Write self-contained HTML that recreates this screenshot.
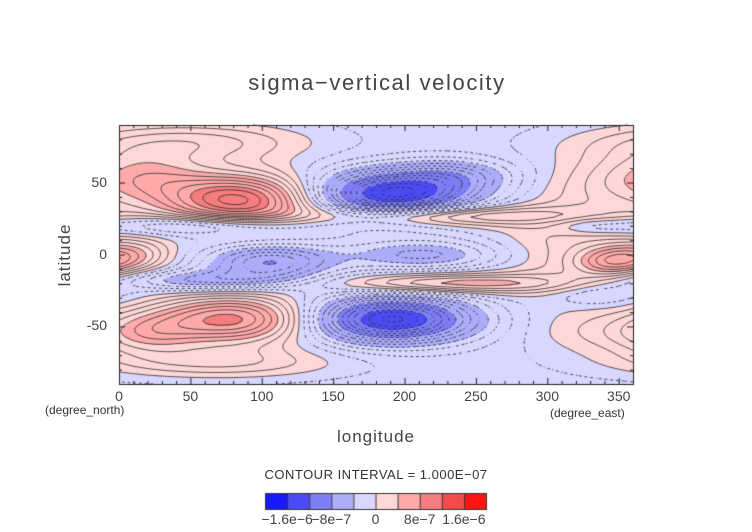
<!DOCTYPE html>
<html><head><meta charset="utf-8"><style>
body{margin:0;background:#fff;width:752px;height:532px;overflow:hidden;font-family:"Liberation Sans",sans-serif;color:#333}
.t{position:absolute;white-space:nowrap}
</style></head><body>
<div style="position:relative;width:752px;height:532px">
<div class="t" style="left:232px;top:70px;width:290px;text-align:center;font-size:22px;letter-spacing:1.6px;font-weight:300;color:#444">sigma−vertical velocity</div>
<canvas id="c" width="752" height="532" style="position:absolute;left:0;top:0"></canvas>
<div class="t" style="left:20px;top:245px;font-size:17px;transform:rotate(-90deg);transform-origin:45px 10px;width:90px;text-align:center;letter-spacing:1px;color:#444">latitude</div>
<div class="t" style="left:316px;top:427px;width:120px;text-align:center;font-size:17px;letter-spacing:1px;color:#444">longitude</div>
<div class="t" style="left:45px;top:403px;font-size:12px">(degree_north)</div>
<div class="t" style="left:550px;top:406px;font-size:12px">(degree_east)</div>
<div class="t" style="left:256px;top:467px;width:240px;text-align:center;font-size:13px;letter-spacing:0.5px">CONTOUR INTERVAL = 1.000E−07</div>
<div id="lab"></div>
</div>
<script>
// blob data: centre lon, centre lat, spread lon, spread lat, amplitude (1e-7)
const blobLon=[85,20,50,80,20,10,60,60,105,190,235,190,225,230,215,345,320,330,340,70,335,330];
const blobLat=[38,55,78,-45,-55,0,20,-18,-5,42,55,-45,27,-20,0,-5,5,-55,50,-75,-28,20];
const blobSLon=[40,30,60,40,25,20,50,50,30,40,30,40,60,60,40,18,45,30,30,60,25,20];
const blobSLat=[13,12,10,12,10,8,5,5,8,11,8,11,5,5,7,7,35,10,15,8,6,4];
const blobAmp=[12,4,4,10,4,4,-4.5,-4.5,-6.5,-13,-4,-13,6,6,-4,5,3,1.5,1.5,3.5,-2.5,-2];
const baseline=-1.5;
const xTicks=[0,50,100,150,200,250,300,350];
const yTicks=[50,0,-50];
const cbEdges=[-1.6,-1.2,-0.8,-0.4,0,0.4,0.8,1.2,1.6];
const cbLabels=["−1.6e−6","−8e−7","0","8e−7","1.6e−6"];
const cbLabelVals=[-1.6,-0.8,0,0.8,1.6];
const colors=[[25,25,255],[75,75,245],[125,125,245],[172,172,250],[215,215,255],[255,215,215],[255,170,170],[245,125,125],[245,75,75],[255,20,20]];

const X0=119,X1=633,Y0=125,Y1=384;
const xs=l=>X0+(l/360)*(X1-X0);
const ys=a=>Y0+(90-a)/180*(Y1-Y0);
function field(lon,lat){let v=baseline;for(let i=0;i<blobLon.length;i++){let d=Math.abs(lon-blobLon[i]);if(d>180)d=360-d;const a=d/blobSLon[i],b=(lat-blobLat[i])/blobSLat[i];v+=blobAmp[i]*Math.exp(-0.5*(a*a+b*b));}return v;}
function bin(v){let k=0;for(const e of cbEdges){if(v*1e-7>=e*1e-6)k++;}return k;}
const cv=document.getElementById('c'),ctx=cv.getContext('2d');
const W=X1-X0,H=Y1-Y0,img=ctx.createImageData(W,H);
for(let j=0;j<H;j++)for(let i=0;i<W;i++){const lon=i/W*360,lat=90-j/H*180;const c=colors[bin(field(lon,lat))];const p=(j*W+i)*4;img.data[p]=c[0];img.data[p+1]=c[1];img.data[p+2]=c[2];img.data[p+3]=255;}
ctx.putImageData(img,X0,Y0);
// contours via marching squares
const step=2,nx=181,ny=91,g=[];
for(let j=0;j<ny;j++){g.push([]);for(let i=0;i<nx;i++)g[j].push(field(i*step,90-j*step));}
ctx.lineWidth=0.8;ctx.strokeStyle='#2a2a2a';
for(let lev=-20;lev<=15;lev++){
 const L=lev;ctx.beginPath();
 for(let j=0;j<ny-1;j++)for(let i=0;i<nx-1;i++){
  if(L<0&&((i+j)%2===1))continue;
  const v=[g[j][i],g[j][i+1],g[j+1][i+1],g[j+1][i]];
  const pts=[];
  const P=[[i,j],[i+1,j],[i+1,j+1],[i,j+1]];
  for(let e=0;e<4;e++){const a=v[e],b=v[(e+1)%4];if((a<L)!==(b<L)){const t=(L-a)/(b-a);const pa=P[e],pb=P[(e+1)%4];pts.push([pa[0]+(pb[0]-pa[0])*t,pa[1]+(pb[1]-pa[1])*t]);}}
  for(let k=0;k+1<pts.length;k+=2){ctx.moveTo(xs(pts[k][0]*step),ys(90-pts[k][1]*step));ctx.lineTo(xs(pts[k+1][0]*step),ys(90-pts[k+1][1]*step));}
 }
 ctx.stroke();
}
// frame and ticks
ctx.strokeStyle='#222';ctx.lineWidth=1;ctx.strokeRect(X0+0.5,Y0+0.5,W,H);
ctx.beginPath();
for(let l=0;l<=360;l+=10){const x=xs(l)+0.5,len=l%50===0?6:3;ctx.moveTo(x,Y1);ctx.lineTo(x,Y1-len);ctx.moveTo(x,Y0);ctx.lineTo(x,Y0+len);}
for(let a=-90;a<=90;a+=10){const y=ys(a)+0.5,len=a%50===0?6:3;ctx.moveTo(X0,y);ctx.lineTo(X0+len,y);ctx.moveTo(X1,y);ctx.lineTo(X1-len,y);}
ctx.stroke();
// colorbar
const CB0=265,CB1=486,CBY=493,CBH=16,bw=(CB1-CB0)/colors.length;
colors.forEach((c,k)=>{ctx.fillStyle=`rgb(${c[0]},${c[1]},${c[2]})`;ctx.fillRect(CB0+k*bw,CBY,bw,CBH);});
ctx.strokeStyle='#333';ctx.strokeRect(CB0+0.5,CBY+0.5,CB1-CB0,CBH);
ctx.beginPath();for(let k=1;k<colors.length;k++){ctx.moveTo(CB0+k*bw+0.5,CBY);ctx.lineTo(CB0+k*bw+0.5,CBY+CBH);}ctx.stroke();
const lab=document.getElementById('lab');
function addLabel(txt,x,y,name,align){const d=document.createElement('div');d.className='t';d.textContent=txt;d.style.left=(x-50)+'px';d.style.top=y+'px';d.style.width='100px';d.style.textAlign=align||'center';d.style.fontSize='14px';d.style.color='#444';


lab.appendChild(d);}
xTicks.forEach(t=>addLabel(String(t),xs(t),388,'x-tick-label'));
yTicks.forEach(t=>{addLabel(String(t),xs(0)-62,ys(t)-9,'y-tick-label','right');});
cbLabels.forEach((t,k)=>{const idx=cbEdges.indexOf(cbLabelVals[k]);addLabel(t,CB0+(idx+1)*bw,511,'colorbar-label');});
</script>
</body></html>
